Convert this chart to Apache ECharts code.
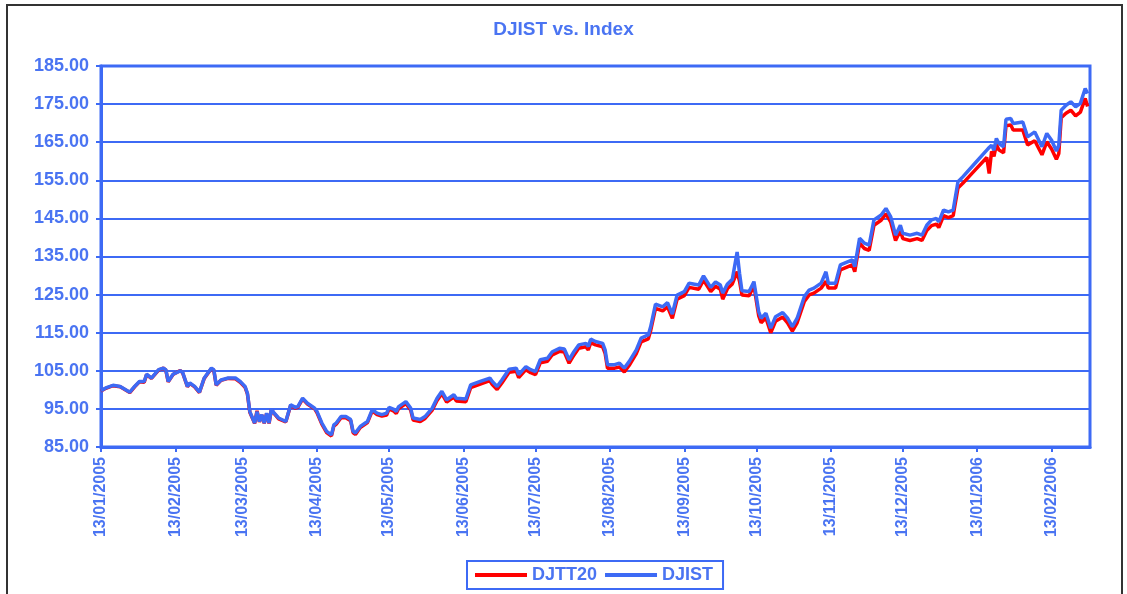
<!DOCTYPE html>
<html>
<head>
<meta charset="utf-8">
<script src="https://cdn.jsdelivr.net/npm/echarts@6/dist/echarts.min.js"></script>
<style>
html,body{margin:0;padding:0;background:#fff;}
#chart{width:1127px;height:594px;}
</style>
</head>
<body>
<div id="chart"></div>
<script>
const titleText = 'DJIST vs. Index';
const seriesNames = ['DJTT20', 'DJIST'];
const tickDates = ['2005-01-13','2005-02-13','2005-03-13','2005-04-13','2005-05-13','2005-06-13','2005-07-13','2005-08-13','2005-09-13','2005-10-13','2005-11-13','2005-12-13','2006-01-13','2006-02-13'];
const axisStart = '2005-01-13';
const axisEnd = '2006-03-01';
const yMin = 85, yMax = 185, yStep = 10;

const dates = [
'2005-01-13','2005-01-15','2005-01-18','2005-01-21','2005-01-25','2005-01-27','2005-01-29','2005-01-31','2005-02-01','2005-02-03',
'2005-02-06','2005-02-08','2005-02-09','2005-02-10','2005-02-12','2005-02-15','2005-02-16','2005-02-18','2005-02-19','2005-02-21',
'2005-02-23','2005-02-25','2005-02-28','2005-03-01','2005-03-02','2005-03-04','2005-03-07','2005-03-10','2005-03-12','2005-03-14',
'2005-03-15','2005-03-16','2005-03-18','2005-03-19','2005-03-20','2005-03-21','2005-03-22','2005-03-23','2005-03-24','2005-03-25',
'2005-03-26','2005-03-28','2005-03-31','2005-04-02','2005-04-04','2005-04-05','2005-04-07','2005-04-09','2005-04-12','2005-04-13',
'2005-04-15','2005-04-17','2005-04-19','2005-04-20','2005-04-21','2005-04-23','2005-04-25','2005-04-27','2005-04-28','2005-04-29',
'2005-05-01','2005-05-04','2005-05-06','2005-05-08','2005-05-10','2005-05-12','2005-05-13','2005-05-15','2005-05-16','2005-05-17',
'2005-05-20','2005-05-22','2005-05-23','2005-05-26','2005-05-28','2005-05-31','2005-06-02','2005-06-04','2005-06-06','2005-06-09',
'2005-06-10','2005-06-14','2005-06-16','2005-06-20','2005-06-24','2005-06-25','2005-06-27','2005-06-29','2005-07-02','2005-07-05',
'2005-07-06','2005-07-09','2005-07-11','2005-07-13','2005-07-15','2005-07-18','2005-07-20','2005-07-23','2005-07-25','2005-07-27',
'2005-07-29','2005-07-31','2005-08-03','2005-08-04','2005-08-05','2005-08-07','2005-08-10','2005-08-11','2005-08-12','2005-08-15',
'2005-08-17','2005-08-19','2005-08-21','2005-08-24','2005-08-26','2005-08-29','2005-08-30','2005-09-01','2005-09-04','2005-09-06',
'2005-09-08','2005-09-10','2005-09-13','2005-09-15','2005-09-19','2005-09-21','2005-09-24','2005-09-26','2005-09-28','2005-09-29',
'2005-10-01','2005-10-03','2005-10-05','2005-10-06','2005-10-07','2005-10-10','2005-10-12','2005-10-14','2005-10-15','2005-10-17',
'2005-10-19','2005-10-21','2005-10-24','2005-10-26','2005-10-28','2005-10-30','2005-11-02','2005-11-04','2005-11-06','2005-11-09',
'2005-11-11','2005-11-12','2005-11-15','2005-11-17','2005-11-20','2005-11-22','2005-11-23','2005-11-25','2005-11-27','2005-11-29',
'2005-12-01','2005-12-04','2005-12-06','2005-12-08','2005-12-10','2005-12-12','2005-12-13','2005-12-16','2005-12-19','2005-12-21',
'2005-12-23','2005-12-25','2005-12-27','2005-12-28','2005-12-30','2006-01-01','2006-01-03','2006-01-05','2006-01-07','2006-01-12',
'2006-01-17','2006-01-18','2006-01-19','2006-01-20','2006-01-21','2006-01-22','2006-01-24','2006-01-25','2006-01-27','2006-01-28',
'2006-02-01','2006-02-03','2006-02-06','2006-02-09','2006-02-11','2006-02-13','2006-02-15','2006-02-16','2006-02-17','2006-02-19',
'2006-02-21','2006-02-23','2006-02-25','2006-02-27','2006-02-28'
];

const djist = [
99.8,100.5,101.2,100.9,99.4,100.9,102.2,102.2,104.1,103.1,
105.3,105.7,105.3,102.2,104.1,105.0,104.6,100.9,101.8,100.9,
99.4,103.1,105.7,105.3,101.3,102.6,103.1,103.1,102.2,100.9,
99.1,94.3,91.3,94.3,91.7,93.5,91.3,93.9,91.3,95.0,
94.0,92.6,91.7,96.1,95.4,95.6,97.8,96.5,95.2,94.3,
91.3,89.1,88.2,90.8,91.3,93.0,93.0,92.2,89.1,88.7,
90.4,91.7,94.8,93.9,93.5,93.9,95.4,94.9,94.3,95.6,
96.9,95.2,92.6,92.2,93.0,95.2,97.8,99.6,97.4,98.7,
97.8,97.6,101.3,102.2,103.1,102.2,100.9,102.6,105.4,105.7,
104.0,106.1,105.3,104.8,107.9,108.3,110.0,110.9,110.7,107.9,
110.0,111.8,112.2,111.4,113.3,112.7,112.2,110.5,106.6,106.6,
107.0,105.7,107.4,110.5,113.6,114.4,116.6,122.5,121.8,122.9,
119.9,124.9,125.8,128.0,127.5,129.9,126.9,128.3,127.5,125.4,
127.8,129.0,136.2,130.6,126.0,125.8,128.4,120.5,118.8,120.1,
116.2,119.2,120.3,118.8,116.6,118.8,124.5,126.2,126.7,128.0,
131.0,128.0,128.0,132.8,133.6,134.1,132.3,139.8,138.5,138.0,
144.6,145.9,147.6,145.4,140.6,143.2,141.1,140.6,141.1,140.6,
143.2,144.6,145.0,144.1,147.2,146.7,147.2,154.6,155.9,159.4,
162.9,163.6,164.2,162.9,166.0,164.7,163.8,171.0,171.2,169.9,
170.3,166.4,167.7,163.8,167.3,165.5,162.7,164.2,173.4,174.7,
175.6,174.3,175.2,179.1,177.8
];

const djtt20 = [
99.7,100.4,101.1,100.8,99.3,100.8,102.1,102.0,104.0,103.0,
105.2,105.7,105.2,102.1,104.0,105.1,104.5,100.8,101.7,100.8,
99.3,103.0,105.6,105.1,101.2,102.5,103.0,102.9,102.0,100.7,
98.9,94.1,91.2,94.5,91.6,93.4,91.2,93.8,91.2,94.8,
93.9,92.4,91.6,95.9,95.2,95.4,97.6,96.3,95.0,94.0,
91.0,88.8,87.9,90.5,91.0,92.7,92.7,91.9,88.8,88.3,
90.1,91.4,94.5,93.5,93.1,93.4,95.0,94.4,93.8,95.1,
96.4,94.7,92.1,91.7,92.5,94.7,97.2,99.0,96.8,98.1,
97.1,96.9,100.6,101.5,102.4,101.4,100.1,101.8,104.6,104.9,
103.2,105.3,104.5,104.0,107.1,107.5,109.2,110.1,109.9,107.0,
109.1,110.9,111.3,110.5,112.4,111.8,111.3,109.6,105.7,105.7,
106.0,104.7,106.4,109.5,112.6,113.4,115.6,121.4,120.7,121.8,
118.8,123.8,124.7,126.9,126.4,128.8,125.8,127.2,126.4,123.8,
126.6,127.8,131.0,128.5,124.9,124.7,127.3,119.4,117.6,118.9,
115.0,118.0,119.1,117.6,115.4,117.6,123.2,124.9,125.4,126.7,
128.5,126.7,126.7,131.5,132.3,132.8,131.0,138.5,137.1,136.6,
143.2,144.5,146.2,144.0,139.2,141.8,139.7,139.2,139.7,139.2,
141.8,143.1,143.5,142.6,145.7,145.2,145.7,153.0,154.2,157.6,
161.0,156.8,162.6,161.3,164.4,163.0,162.2,169.3,169.5,168.2,
168.2,164.3,165.4,161.7,165.1,163.2,160.5,162.0,171.4,172.6,
173.4,171.9,172.9,176.5,174.4
];

const BLUE = '#3d6af5';
const TEXT_BLUE = '#4a74f2';
const RED = '#ff0000';
const FONT = '"Liberation Sans", Arial, sans-serif';

const chart = echarts.init(document.getElementById('chart'), null, {renderer: 'canvas'});

function toTs(s) { const p = s.split('-').map(Number); return Date.UTC(p[0], p[1]-1, p[2]); }
function pad(n) { return (n < 10 ? '0' : '') + n; }
function fmtDate(v) { const d = new Date(v); return pad(d.getUTCDate()) + '/' + pad(d.getUTCMonth() + 1) + '/' + d.getUTCFullYear(); }
const tickTs = tickDates.map(toTs);

chart.setOption({
  animation: false,
  backgroundColor: '#ffffff',
  title: {
    text: titleText,
    left: 'center',
    top: 15,
    textStyle: {color: TEXT_BLUE, fontSize: 19, fontWeight: 'bold', fontFamily: FONT}
  },
  graphic: [{
    type: 'rect',
    shape: {x: 7, y: 5, width: 1115, height: 600},
    style: {fill: 'none', stroke: '#333', lineWidth: 2},
    silent: true
  }],
  legend: {
    left: 467,
    top: 561,
    orient: 'horizontal',
    padding: [5, 10, 5, 8],
    itemGap: 8,
    itemWidth: 52,
    itemHeight: 4,
    icon: 'rect',
    borderColor: BLUE,
    borderWidth: 2,
    borderRadius: 0,
    textStyle: {color: TEXT_BLUE, fontSize: 18, fontWeight: 'bold', fontFamily: FONT},
    data: seriesNames
  },
  grid: {
    left: 101, top: 66, right: 37, bottom: 147,
    show: true, borderColor: BLUE, borderWidth: 3, backgroundColor: 'transparent'
  },
  xAxis: {
    type: 'value',
    min: toTs(axisStart),
    max: toTs(axisEnd),
    axisLine: {show: true, lineStyle: {color: BLUE, width: 3}},
    axisTick: {show: true, length: 5, lineStyle: {color: BLUE, width: 2}, customValues: tickTs},
    splitLine: {show: false},
    axisLabel: {
      customValues: tickTs,
      rotate: 90,
      margin: 10,
      color: TEXT_BLUE,
      fontSize: 16,
      fontWeight: 'bold',
      fontFamily: FONT,
      formatter: function (v) { return fmtDate(v); }
    }
  },
  yAxis: {
    type: 'value',
    min: yMin, max: yMax, interval: yStep,
    axisLine: {show: true, lineStyle: {color: BLUE, width: 3}},
    axisTick: {show: true, length: 5, lineStyle: {color: BLUE, width: 2}},
    splitLine: {show: true, lineStyle: {color: BLUE, width: 2}},
    axisLabel: {
      color: TEXT_BLUE, fontSize: 18, fontWeight: 'bold', fontFamily: FONT, margin: 12,
      formatter: function (v) { return v.toFixed(2); }
    }
  },
  series: [
    {
      name: seriesNames[0], type: 'line', showSymbol: false, symbol: 'none',
      data: dates.map((d, i) => [toTs(d), djtt20[i]]),
      lineStyle: {color: RED, width: 3.5}, itemStyle: {color: RED}
    },
    {
      name: seriesNames[1], type: 'line', showSymbol: false, symbol: 'none',
      data: dates.map((d, i) => [toTs(d), djist[i]]),
      lineStyle: {color: BLUE, width: 3.5}, itemStyle: {color: BLUE}
    }
  ]
});
</script>
</body>
</html>
